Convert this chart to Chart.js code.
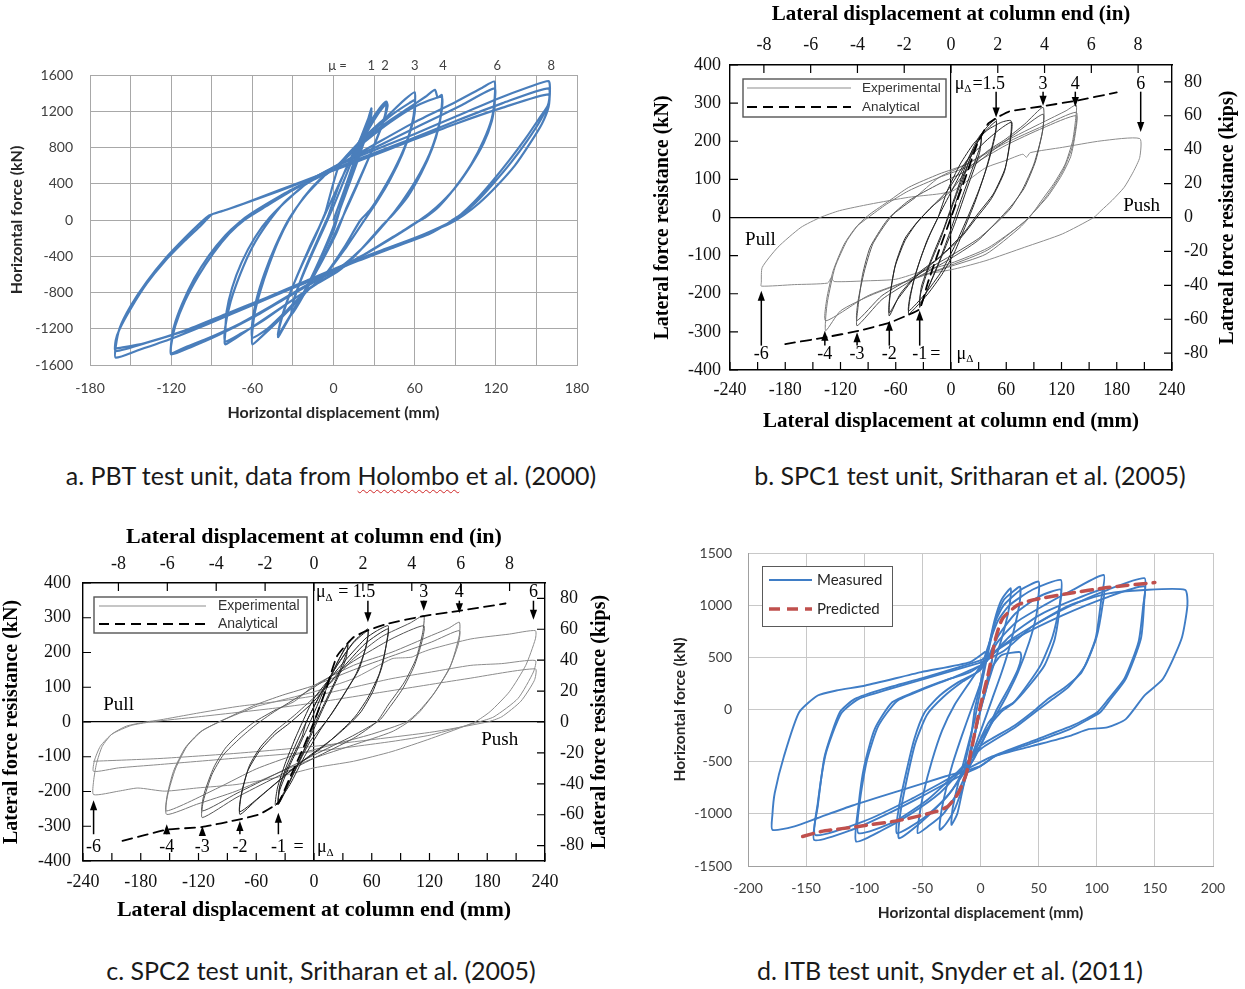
<!DOCTYPE html>
<html>
<head>
<meta charset="utf-8">
<title>Cyclic force–displacement response of four test units</title>
<script src="https://cdn.jsdelivr.net/npm/chart.js@4.4.1/dist/chart.umd.min.js"></script>
<style>
  html, body { margin: 0; padding: 0; background: #fff; }
  body { width: 1245px; height: 989px; position: relative; overflow: hidden; }
  canvas { position: absolute; }
  .cap { position: absolute; transform: translateX(-50%); white-space: nowrap;
         font-family: Lato, "Open Sans", sans-serif; font-size: 25px; line-height: 30px; color: #1a1a1a; }
  .sq { text-decoration: underline wavy #d02828; text-decoration-thickness: 1px; text-underline-offset: 4px; }
</style>
</head>
<body>
<canvas id="pbt"  width="620" height="400" style="left:0;top:40px"></canvas>
<canvas id="spc1" width="605" height="440" style="left:640px;top:0"></canvas>
<canvas id="spc2" width="625" height="410" style="left:0;top:520px"></canvas>
<canvas id="itb"  width="605" height="400" style="left:640px;top:530px"></canvas>

<div class="cap" style="left:331px;top:460px">a. PBT test unit, data from <span class="sq">Holombo</span> et al. (2000)</div>
<div class="cap" style="left:970px;top:460px">b. SPC1 test unit, Sritharan et al. (2005)</div>
<div class="cap" style="left:321px;top:955px">c. SPC2 test unit, Sritharan et al. (2005)</div>
<div class="cap" style="left:950px;top:955px">d. ITB test unit, Snyder et al. (2011)</div>

<script>
// ---------- fonts and unit conversions ----------
const SERIF = '"Liberation Serif", "Times New Roman", serif';
const SANS  = '"Liberation Sans", Arial, sans-serif';
const HUMAN = 'Lato, "Open Sans", sans-serif';
const KN_PER_KIP = 4.448222;
const MM_PER_IN = 25.4;

// ---------- (a) PBT unit: displacement (mm), force (kN), one array per ductility level ----------
const pbtCycleMu1 = [[0,0],[8,330],[16,680],[23,980],[28,1230],[27,1120],[22,880],[14,520],[6,180],[0,-120],[-8,-380],[-16,-650],[-24,-880],[-31,-1040],[-30,-920],[-24,-660],[-16,-380],[-8,-120],[0,150],[10,520],[20,900],[28,1200],[27,1070],[18,660],[8,250],[-2,-150],[-14,-560],[-24,-860],[-31,-1010],[-29,-860],[-20,-500],[-10,-160],[-4,40]];
const pbtCycleMu2 = [[-4,40],[4,380],[14,720],[26,1050],[34,1230],[39,1306],[40,1260],[37,1090],[30,820],[20,480],[10,150],[2,-150],[-8,-440],[-20,-760],[-30,-1010],[-38,-1220],[-41,-1292],[-40,-1180],[-35,-930],[-27,-620],[-18,-310],[-10,-60],[-2,200],[8,520],[20,850],[32,1150],[39,1280],[38,1150],[32,900],[22,540],[12,200],[2,-120],[-10,-480],[-22,-800],[-33,-1080],[-41,-1270],[-39,-1110],[-33,-840],[-24,-520],[-14,-200],[-6,80]];
const pbtCycleMu3 = [[-6,80],[4,600],[14,780],[26,960],[40,1150],[52,1320],[60,1410],[60,1250],[58,1060],[53,820],[45,560],[36,320],[27,110],[20,0],[8,-300],[-6,-600],[-18,-760],[-30,-950],[-42,-1130],[-52,-1270],[-60,-1372],[-60,-1230],[-58,-1010],[-54,-780],[-48,-510],[-41,-240],[-33,0],[-22,250],[-10,450],[4,610],[16,790],[30,990],[44,1170],[56,1290],[60,1320],[60,1180],[57,990],[51,730],[42,450],[32,200],[22,-20],[8,-330],[-8,-640],[-20,-780],[-34,-990],[-48,-1190],[-60,-1300],[-60,-1130],[-57,-880],[-51,-590],[-43,-290],[-33,10],[-20,280],[-6,500]];
const pbtCycleMu4 = [[-6,500],[4,620],[20,850],[38,1060],[55,1230],[68,1360],[75,1435],[77,1350],[80,1380],[80,1250],[78,1040],[73,790],[65,520],[55,260],[44,60],[36,-60],[20,-330],[4,-560],[-14,-720],[-30,-880],[-48,-1060],[-64,-1220],[-80,-1372],[-80,-1240],[-79,-1010],[-75,-750],[-68,-470],[-58,-190],[-47,30],[-32,250],[-16,450],[4,620],[22,850],[42,1080],[60,1250],[80,1360],[80,1210],[77,990],[71,730],[61,440],[50,190],[39,-20],[22,-300],[2,-560],[-16,-740],[-34,-920],[-52,-1110],[-68,-1250],[-80,-1340],[-80,-1180],[-76,-900],[-69,-600],[-60,-300],[-49,-40],[-36,200],[-20,400]];
const pbtCycleMu6 = [[-20,400],[4,610],[30,830],[60,1080],[90,1300],[110,1460],[119,1527],[119,1320],[117,1120],[111,880],[102,620],[90,360],[78,150],[68,30],[62,-20],[48,-150],[25,-360],[0,-560],[-20,-720],[-45,-940],[-70,-1150],[-95,-1320],[-112,-1420],[-120,-1470],[-120,-1360],[-118,-1180],[-112,-930],[-103,-650],[-92,-390],[-80,-170],[-70,-30],[-60,80],[-40,260],[-20,420],[4,610],[35,830],[65,1050],[95,1270],[119,1453],[119,1290],[117,1090],[111,850],[101,590],[89,340],[76,140],[64,0],[40,-230],[15,-450],[-10,-650],[-35,-860],[-60,-1080],[-85,-1270],[-105,-1400],[-120,-1483],[-120,-1380],[-117,-1170],[-110,-900],[-100,-620],[-89,-370],[-77,-150],[-66,0],[-50,150],[-30,330],[-10,480]];
const pbtCycleMu8 = [[-10,480],[4,610],[30,770],[60,950],[90,1140],[120,1330],[145,1470],[159,1534],[160,1460],[159,1280],[152,1120],[142,900],[130,660],[117,420],[104,200],[94,60],[88,0],[81,-70],[70,-160],[45,-300],[15,-470],[-15,-660],[-45,-840],[-75,-1020],[-105,-1200],[-135,-1340],[-161,-1446],[-161,-1330],[-158,-1200],[-150,-980],[-138,-700],[-125,-460],[-110,-230],[-98,-60],[-90,60],[-80,110],[-70,160],[-40,330],[-10,500],[20,680],[55,880],[90,1090],[125,1290],[159,1453],[159,1290],[153,1100],[143,870],[131,630],[118,400],[105,190],[94,50],[84,-40],[60,-200],[30,-380],[0,-560],[-30,-750],[-60,-940],[-90,-1130],[-120,-1310],[-145,-1440],[-161,-1519],[-161,-1400],[-158,-1190],[-150,-950],[-138,-680],[-124,-420],[-110,-200],[-99,-40],[-92,50],[-82,100],[-72,150],[-40,320],[-10,490],[20,660],[55,860],[90,1060],[125,1240],[159,1387],[159,1250],[154,1060],[145,840],[134,600],[121,380],[108,190],[96,50],[86,-40],[70,-140],[40,-310],[10,-480],[-20,-670],[-50,-860],[-80,-1040],[-110,-1220],[-140,-1360],[-161,-1420]];
const pbtDispGrid   = [-180,-150,-120,-90,-60,-30,0,30,60,90,120,150,180];
const pbtForceTicks = [-1600,-1200,-800,-400,0,400,800,1200,1600];
const pbtMuText = ['μ =', '1', '2', '3', '4', '6', '8'];
const pbtMuAt   = [3, 28, 38, 60, 81, 121, 161];

// ---------- (b) SPC1 unit: displacement (mm), force (kN) ----------
const spc1CycleMu1  = [[0,0],[10,75],[20,150],[33,219],[32,190],[22,120],[10,40],[0,-30],[-12,-110],[-24,-180],[-34,-236],[-33,-200],[-24,-130],[-12,-60],[0,20],[12,100],[25,180],[33,215],[31,170],[18,80],[5,-10],[-8,-90],[-22,-170],[-34,-230],[-32,-180],[-20,-100],[-8,-30]];
const spc1CycleMu15 = [[-8,-30],[5,60],[18,150],[30,210],[42,245],[49,258],[49,235],[44,180],[36,110],[26,40],[16,-20],[4,-90],[-10,-150],[-25,-200],[-38,-235],[-46,-253],[-45,-220],[-40,-160],[-32,-100],[-22,-40],[-10,20],[5,90],[20,160],[35,220],[49,252],[48,215],[40,140],[30,70],[18,0],[5,-70],[-10,-140],[-28,-200],[-46,-245],[-44,-200],[-36,-130],[-26,-60],[-14,0]];
const spc1CycleMu2  = [[-14,0],[-4,70],[10,140],[25,195],[40,230],[55,250],[65,254],[65,219],[59,131],[46,62],[29,9],[13,-43],[-13,-105],[-35,-145],[-55,-200],[-67,-258],[-67,-218],[-61,-131],[-50,-61],[-38,-17],[-25,18],[-4,70],[17,149],[38,201],[55,235],[66,250],[65,210],[58,120],[44,50],[28,0],[10,-55],[-15,-110],[-40,-160],[-58,-215],[-67,-250],[-66,-200],[-60,-120],[-50,-55],[-36,-10],[-20,30]];
const spc1CycleMu3  = [[-20,30],[0,70],[17,123],[40,175],[59,205],[80,245],[100,289],[100,236],[92,149],[80,79],[67,35],[54,0],[29,-61],[-4,-113],[-46,-170],[-75,-215],[-102,-284],[-101,-236],[-96,-149],[-88,-79],[-75,-26],[-67,0],[-46,44],[-13,88],[17,123],[45,175],[70,220],[100,271],[99,220],[90,140],[78,75],[65,25],[52,-8],[30,-55],[0,-100],[-40,-155],[-75,-205],[-102,-270],[-101,-220],[-94,-140],[-85,-70],[-72,-20],[-62,10],[-40,50]];
const spc1CycleMu4  = [[-40,50],[-13,105],[17,140],[59,200],[100,250],[125,280],[136,295],[135,250],[132,200],[124,140],[112,90],[100,50],[88,9],[75,-26],[38,-96],[-4,-131],[-46,-166],[-88,-205],[-120,-245],[-136,-297],[-136,-260],[-134,-218],[-126,-131],[-113,-61],[-100,-17],[-88,9],[-67,44],[-46,79],[-13,114],[17,140],[59,195],[100,240],[136,276],[135,230],[131,180],[122,125],[108,70],[94,25],[80,-10],[40,-85],[0,-125],[-40,-160],[-90,-205],[-136,-271],[-135,-215],[-128,-140],[-116,-70],[-103,-25],[-90,0],[-70,35],[-46,70],[-13,105],[20,135],[60,190],[100,235],[136,267],[135,220],[130,160],[120,110],[105,55],[90,15],[78,-15],[40,-80],[0,-120],[-30,-140]];
const spc1CycleMu6  = [[-30,-140],[-60,-162],[-90,-166],[-127,-168],[-130,-158],[-134,-172],[-170,-176],[-206,-180],[-206,-170],[-205,-131],[-188,-78],[-163,-26],[-142,0],[-121,18],[-88,35],[-46,53],[-13,62],[2,70],[20,100],[38,131],[60,150],[78,166],[82,158],[86,170],[121,184],[163,201],[205,207],[205,158],[198,120],[188,79],[175,45],[163,18],[155,0],[121,-43],[80,-78],[38,-113],[4,-135],[-30,-150]];
const spc1Analytical = [[-180,-332],[-138,-315],[-100,-297],[-67,-276],[-46,-255],[-34,-240],[-25,-170],[-15,-100],[0,0],[15,100],[28,190],[40,245],[50,262],[63,278],[100,292],[135,306],[180,328]];
const spc1PosAt  = [49, 100, 135, 206];
const spc1PosTip = [262, 293, 290, 224];
const spc1NegText = ['-6', '-4', '-3', '-2', '-1'];
const spc1NegAt   = [-206, -137, -102, -67, -34];
const spc1NegTip  = [-192, -297, -301, -271, -244];

// ---------- (c) SPC2 unit: displacement (mm), force (kN) ----------
const spc2CycleMu1  = [[0,0],[12,90],[24,170],[35,225],[34,200],[24,130],[12,60],[0,-10],[-12,-90],[-25,-170],[-37,-237],[-36,-200],[-26,-130],[-14,-60],[-4,0],[10,90],[24,170],[35,222],[33,180],[20,100],[8,30],[-5,-50],[-20,-140],[-37,-230],[-35,-180],[-24,-110],[-12,-40]];
const spc2CycleMu15 = [[-12,-40],[-8,0],[8,87],[24,163],[41,230],[56,268],[55,230],[47,153],[33,87],[20,30],[12,0],[-4,-56],[-20,-142],[-37,-237],[-36,-190],[-28,-123],[-16,-47],[-8,0],[8,87],[24,163],[41,228],[56,262],[54,215],[44,140],[30,75],[16,15],[6,-25],[-10,-100],[-25,-180],[-40,-240],[-38,-190],[-30,-120],[-20,-50]];
const spc2CycleMu2  = [[-20,-50],[-12,0],[0,68],[28,163],[53,239],[65,262],[77,277],[76,239],[71,163],[61,87],[49,30],[39,0],[20,-47],[-8,-104],[-41,-180],[-60,-225],[-77,-266],[-76,-218],[-69,-142],[-57,-85],[-41,-37],[-24,0],[0,60],[28,150],[53,225],[77,268],[75,220],[68,140],[56,70],[44,20],[34,-10],[10,-70],[-20,-130],[-50,-200],[-77,-258],[-75,-200],[-67,-125],[-55,-70],[-40,-25]];
const spc2CycleMu3  = [[-40,-25],[-20,20],[0,70],[20,120],[41,182],[70,245],[100,285],[114,306],[113,258],[106,182],[94,115],[77,49],[65,0],[41,-47],[0,-104],[-41,-161],[-81,-218],[-116,-275],[-115,-228],[-106,-151],[-94,-94],[-77,-47],[-61,-9],[-41,30],[0,100],[41,175],[81,240],[114,277],[112,230],[104,160],[92,95],[78,40],[68,5],[40,-40],[0,-95],[-40,-150],[-80,-205],[-116,-256],[-114,-205],[-104,-130],[-92,-75],[-78,-35],[-62,0],[-40,35]];
const spc2CycleMu4  = [[-40,35],[-20,60],[0,105],[41,163],[81,201],[122,249],[140,270],[151,287],[151,249],[142,163],[126,87],[110,30],[98,0],[81,-28],[41,-66],[0,-104],[-41,-151],[-81,-199],[-122,-237],[-153,-266],[-153,-218],[-146,-142],[-134,-75],[-118,-28],[-98,1],[-61,49],[-33,77],[0,105],[41,150],[81,190],[122,230],[151,263],[150,225],[140,150],[124,80],[108,28],[96,0],[60,-35],[20,-65],[-20,-95],[-60,-135],[-100,-190],[-153,-256],[-152,-210],[-144,-135],[-132,-70],[-116,-25],[-95,5],[-60,45]];
const spc2CycleMu6  = [[-60,45],[-41,58],[0,87],[41,125],[81,182],[95,185],[102,187],[110,198],[122,210],[163,239],[203,253],[230,263],[230,239],[220,163],[203,87],[183,30],[167,0],[122,-47],[81,-85],[41,-113],[0,-132],[-41,-161],[-81,-180],[-122,-190],[-155,-199],[-183,-190],[-203,-199],[-229,-209],[-229,-170],[-226,-120],[-220,-70],[-210,-35],[-195,-12],[-175,0],[-160,6],[-122,25],[-81,44],[-41,58],[0,75],[41,100],[81,125],[122,144],[163,163],[195,168],[230,177],[228,144],[212,68],[187,15],[171,0],[122,-37],[81,-56],[0,-85],[-81,-104],[-163,-123],[-203,-132],[-229,-142],[-228,-110],[-222,-70],[-210,-35],[-190,-10],[-170,0],[-120,15],[-40,40],[0,55],[80,90],[160,125],[230,153],[229,120],[215,60],[195,15],[180,0],[120,-30],[0,-70],[-80,-90],[-160,-105],[-229,-113]];
const spc2Analytical = [[-199,-342],[-153,-310],[-116,-302],[-77,-280],[-57,-266],[-37,-232],[-25,-160],[-12,-80],[0,0],[12,90],[24,190],[41,244],[56,264],[77,283],[114,305],[151,320],[199,341]];
const spc2PosAt  = [56, 114, 151, 228];
const spc2PosTip = [287, 320, 313, 294];
const spc2NegText = ['-6', '-4', '-3', '-2', '-1'];
const spc2NegAt   = [-229, -153, -116, -77, -37];
const spc2NegTip  = [-225, -294, -299, -285, -261];

// shared axis ticks for the SPC plots
const spcMmTicks  = [-240,-180,-120,-60,0,60,120,180,240];
const spcMmMarks  = [-240,-210,-180,-150,-120,-90,-60,-30,0,30,60,90,120,150,180,210,240];
const spcInTicks  = [-8,-6,-4,-2,0,2,4,6,8];
const spcKnTicks  = [-400,-300,-200,-100,0,100,200,300,400];
const spcKipTicks = [-80,-60,-40,-20,0,20,40,60,80];

// ---------- (d) ITB unit: displacement (mm), force (kN) ----------
const itbCycleElastic = [[0,0],[5,250],[10,480],[9,400],[5,200],[0,0],[-5,-250],[-10,-480],[-9,-400],[-4,-180],[0,0],[10,400],[18,520],[34,550],[35,500],[32,380],[24,200],[14,0],[4,-250],[-6,-480],[-14,-600],[-12,-450],[-8,-250],[-5,0]];
const itbCycle25  = [[-5,0],[5,500],[12,850],[18,1050],[26,1162],[25,1000],[20,750],[12,450],[5,200],[-2,-100],[-10,-500],[-16,-800],[-20,-1000],[-25,-1105],[-24,-950],[-19,-700],[-12,-400],[-5,-100]];
const itbCycle35  = [[-5,-100],[2,300],[8,620],[14,900],[20,1050],[28,1130],[34,1178],[34,1050],[31,870],[25,600],[18,350],[10,100],[2,-150],[-6,-400],[-14,-700],[-22,-950],[-30,-1100],[-35,-1153],[-34,-1000],[-30,-780],[-24,-520],[-16,-250],[-8,0],[0,250]];
const itbCycle50  = [[0,250],[6,550],[12,820],[20,1000],[35,1150],[50,1226],[50,1100],[48,900],[42,650],[32,350],[22,120],[12,-80],[2,-300],[-10,-560],[-20,-800],[-32,-1000],[-45,-1120],[-54,-1185],[-53,-1050],[-49,-800],[-42,-500],[-33,-200],[-22,50],[-10,250],[2,450]];
const itbCycle70  = [[2,450],[8,650],[15,850],[25,1000],[45,1150],[69,1242],[69,1066],[64,680],[55,422],[42,230],[29,69],[19,5],[7,-124],[-5,-400],[-15,-620],[-30,-850],[-50,-1050],[-72,-1185],[-70,-928],[-64,-607],[-57,-285],[-48,-27],[-35,134],[-19,262],[-3,358],[5,460]];
const itbCycle70b = [[5,460],[15,700],[30,920],[50,1080],[69,1150],[68,1000],[62,700],[52,430],[40,230],[28,60],[18,-20],[5,-200],[-10,-500],[-25,-780],[-45,-1020],[-70,-1234],[-69,-1000],[-63,-650],[-56,-320],[-46,-50],[-32,120],[-15,270],[0,380],[8,520]];
const itbCycle105  = [[8,520],[15,650],[30,830],[55,1000],[80,1150],[106,1289],[104,1066],[99,680],[87,358],[71,198],[58,101],[48,5],[29,-156],[0,-349],[-15,-560],[-35,-800],[-60,-1000],[-85,-1160],[-107,-1265],[-105,-928],[-100,-542],[-91,-188],[-76,69],[-57,166],[-35,262],[-9,358],[5,460]];
const itbCycle105b = [[5,460],[25,700],[50,900],[80,1050],[106,1150],[105,1000],[100,700],[90,420],[76,220],[62,100],[50,0],[30,-170],[0,-380],[-20,-600],[-45,-860],[-75,-1080],[-105,-1185],[-104,-900],[-98,-500],[-88,-160],[-72,80],[-50,190],[-25,300],[0,420]];
const itbCycle140  = [[0,420],[20,620],[45,800],[75,980],[110,1150],[141,1259],[141,1066],[138,680],[125,294],[112,101],[103,-27],[93,-92],[77,-188],[45,-320],[13,-445],[0,-542],[-20,-650],[-50,-830],[-80,-1000],[-110,-1150],[-143,-1251],[-140,-928],[-134,-446],[-121,-27],[-108,101],[-83,198],[-50,300],[-20,400],[0,470]];
const itbCycle140b = [[0,470],[30,680],[70,900],[110,1080],[141,1180],[140,1000],[136,650],[124,300],[110,100],[100,-30],[80,-150],[45,-300],[10,-450],[-20,-620],[-60,-860],[-100,-1070],[-142,-1203],[-140,-900],[-133,-420],[-120,-40],[-105,100],[-80,190],[-40,320],[0,450]];
const itbCycle178  = [[0,450],[20,560],[45,800],[77,1000],[109,1110],[141,1146],[176,1146],[178,1001],[173,680],[157,294],[141,133],[125,-92],[109,-172],[93,-188],[77,-252],[45,-349],[13,-445],[0,-542],[-30,-640],[-70,-780],[-110,-920],[-140,-1040],[-160,-1120],[-179,-1153],[-179,-1008],[-177,-800],[-169,-446],[-156,-27],[-140,134],[-124,182],[-99,230],[-51,358],[-9,454],[4,552]];
const itbPredicted = [[-153,-1217],[-137,-1169],[-105,-1121],[-67,-1057],[-38,-977],[-28,-928],[-19,-800],[-12,-607],[-6,-285],[0,37],[7,358],[13,680],[19,873],[32,1001],[45,1050],[77,1114],[109,1169],[150,1217]];
const itbDispTicks  = [-200,-150,-100,-50,0,50,100,150,200];
const itbForceTicks = [-1500,-1000,-500,0,500,1000,1500];

// ---------- helpers ----------
const xy = arr => arr.map(p => ({ x: p[0], y: p[1] }));
const plain = v => String(v);
const useTicks = values => scale => { scale.ticks = values.map(v => ({ value: v })); };
const fixSize = (dim, size) => scale => {
  scale[dim] = size;
  scale.paddingLeft = scale.paddingRight = scale.paddingTop = scale.paddingBottom = 0;
};
function curve(label, arr, color, width, extra) {
  return Object.assign({ label, data: xy(arr), showLine: true, borderColor: color, backgroundColor: color,
    borderWidth: width, pointRadius: 0, pointHoverRadius: 0, tension: 0.25, fill: false }, extra || {});
}
function baseOptions(padding) {
  return {
    responsive: false, animation: false, devicePixelRatio: 1, events: [],
    layout: { padding },
    plugins: { legend: { display: false }, tooltip: { enabled: false } },
    elements: { line: { borderCapStyle: 'round', borderJoinStyle: 'round' } }
  };
}
function arrow(ctx, x, yFrom, yTo) {
  const dir = Math.sign(yTo - yFrom);
  ctx.beginPath(); ctx.moveTo(x, yFrom); ctx.lineTo(x, yTo - dir * 8); ctx.stroke();
  ctx.beginPath(); ctx.moveTo(x, yTo); ctx.lineTo(x - 3.6, yTo - dir * 10); ctx.lineTo(x + 3.6, yTo - dir * 10);
  ctx.closePath(); ctx.fill();
}
function muDelta(ctx, x, y, size, tail) {
  ctx.textAlign = 'left'; ctx.textBaseline = 'middle';
  ctx.font = `${size}px ${SERIF}`; ctx.fillText('μ', x, y);
  let w = ctx.measureText('μ').width;
  ctx.font = `${Math.round(size * 0.62)}px ${SERIF}`; ctx.fillText('Δ', x + w, y + size * 0.3);
  w += ctx.measureText('Δ').width;
  if (tail) { ctx.font = `${size}px ${SERIF}`; ctx.fillText(tail, x + w + 1, y); }
}

// ---------- (a) PBT ----------
const PBT_BLUE = '#4a7ebb';
const pbtMu = {
  id: 'pbtMu',
  afterDraw(chart) {
    const { ctx, chartArea: a, scales: { x } } = chart;
    ctx.save();
    ctx.fillStyle = '#404040'; ctx.font = `13px ${HUMAN}`;
    ctx.textAlign = 'center'; ctx.textBaseline = 'middle';
    pbtMuText.forEach((t, i) => ctx.fillText(t, x.getPixelForValue(pbtMuAt[i]), a.top - 9));
    ctx.restore();
  }
};
new Chart(document.getElementById('pbt'), {
  type: 'scatter',
  data: { datasets: [pbtCycleMu1, pbtCycleMu2, pbtCycleMu3, pbtCycleMu4, pbtCycleMu6, pbtCycleMu8]
            .map((c, i) => curve('PBT ' + i, c, PBT_BLUE, 2.2, { tension: 0.2 })) },
  options: Object.assign(baseOptions({ left: 0, top: 35, right: 43, bottom: 0 }), {
    scales: {
      x: { type: 'linear', min: -180, max: 180, afterBuildTicks: useTicks(pbtDispGrid), afterFit: fixSize('height', 75),
           ticks: { autoSkip: false, maxRotation: 0, padding: 14.6, color: '#404040', font: { family: HUMAN, size: 14 },
                    callback: v => (v % 60 === 0 ? String(v) : '') },
           grid: { color: '#a8a8a8', lineWidth: 1, drawTicks: false }, border: { color: '#a8a8a8', width: 1 },
           title: { display: true, text: 'Horizontal displacement (mm)', color: '#262626',
                    font: { family: HUMAN, size: 16, weight: 'bold' }, padding: { top: 0, bottom: 17.4 } } },
      y: { type: 'linear', min: -1600, max: 1600, afterBuildTicks: useTicks(pbtForceTicks), afterFit: fixSize('width', 90),
           ticks: { autoSkip: false, padding: 17, color: '#404040', font: { family: HUMAN, size: 14 }, callback: plain },
           grid: { color: '#a8a8a8', lineWidth: 1, drawTicks: false }, border: { color: '#a8a8a8', width: 1 },
           title: { display: true, text: 'Horizontal force (kN)', color: '#262626',
                    font: { family: HUMAN, size: 16, weight: 'bold' }, padding: { top: 7.4, bottom: 0 } } }
    }
  }),
  plugins: [pbtMu]
});

// ---------- (b), (c) SPC units ----------
function spcDecor(cfg) {
  return {
    id: 'spcDecor',
    afterDraw(chart) {
      const { ctx, chartArea: a, scales } = chart;
      const { x, y, xIn, yKip } = scales;
      ctx.save();
      // tick marks pointing into the frame
      ctx.strokeStyle = '#000'; ctx.lineWidth = 1.2; ctx.beginPath();
      spcMmMarks.forEach(v => { const p = x.getPixelForValue(v); ctx.moveTo(p, a.bottom); ctx.lineTo(p, a.bottom - 8); });
      spcInTicks.forEach(v => { const p = xIn.getPixelForValue(v); ctx.moveTo(p, a.top); ctx.lineTo(p, a.top + 8); });
      spcKnTicks.forEach(v => { const p = y.getPixelForValue(v); ctx.moveTo(a.left, p); ctx.lineTo(a.left + 8, p); });
      spcKipTicks.forEach(v => { const p = yKip.getPixelForValue(v); ctx.moveTo(a.right, p); ctx.lineTo(a.right - 8, p); });
      ctx.stroke();

      // legend
      const L = cfg.legend;
      const bx = a.left + L.dx, by = a.top + L.dy;
      ctx.fillStyle = '#fff'; ctx.fillRect(bx, by, L.w, L.h);
      ctx.strokeStyle = '#555'; ctx.lineWidth = 1.4; ctx.strokeRect(bx, by, L.w, L.h);
      const find = lbl => chart.data.datasets.find(d => d.label === lbl);
      [[find('Experimental'), L.r1, 'Experimental'], [find('Analytical'), L.r2, 'Analytical']].forEach(([d, ry, text]) => {
        ctx.save();
        ctx.strokeStyle = d.borderColor; ctx.lineWidth = Math.max(d.borderWidth, 1.2); ctx.setLineDash(d.borderDash || []);
        ctx.beginPath(); ctx.moveTo(a.left + L.x1, a.top + ry); ctx.lineTo(a.left + L.x2, a.top + ry); ctx.stroke();
        ctx.restore();
        ctx.fillStyle = '#333'; ctx.font = `${L.size}px ${SANS}`; ctx.textAlign = 'left'; ctx.textBaseline = 'middle';
        ctx.fillText(text, a.left + L.tx, a.top + ry);
      });

      // ductility arrows and labels
      ctx.fillStyle = '#000'; ctx.strokeStyle = '#000'; ctx.lineWidth = 1.5;
      cfg.posAt.forEach((v, i) => arrow(ctx, x.getPixelForValue(v), y.getPixelForValue(cfg.posBase), y.getPixelForValue(cfg.posTip[i])));
      cfg.negAt.forEach((v, i) => arrow(ctx, x.getPixelForValue(v), y.getPixelForValue(cfg.negBase), y.getPixelForValue(cfg.negTip[i])));
      const ly = y.getPixelForValue(cfg.posLabelY), ny = y.getPixelForValue(cfg.negLabelY);
      muDelta(ctx, x.getPixelForValue(cfg.muPosLeft), ly, 18, cfg.firstTail);
      ctx.font = `18px ${SERIF}`; ctx.textAlign = 'center'; ctx.textBaseline = 'middle';
      cfg.posText.forEach((t, i) => ctx.fillText(t, x.getPixelForValue(cfg.posAt[i + 1]), ly));
      cfg.negText.forEach((t, i) => ctx.fillText(t, x.getPixelForValue(cfg.negAt[i]), ny));
      ctx.fillText('=', x.getPixelForValue(cfg.eqAt), ny);
      muDelta(ctx, x.getPixelForValue(cfg.muNegLeft), ny, 18, '');
      ctx.font = `19px ${SERIF}`; ctx.textAlign = 'center';
      ctx.fillText('Pull', x.getPixelForValue(cfg.pull[0]), y.getPixelForValue(cfg.pull[1]));
      ctx.fillText('Push', x.getPixelForValue(cfg.push[0]), y.getPixelForValue(cfg.push[1]));

      // right-hand axis title, read bottom to top
      ctx.translate(cfg.rightTitleX, (a.top + a.bottom) / 2);
      ctx.rotate(-Math.PI / 2);
      ctx.font = `bold 20px ${SERIF}`; ctx.textAlign = 'center'; ctx.textBaseline = 'middle';
      ctx.fillText(cfg.rightTitle, 0, 0);
      ctx.restore();
    }
  };
}
function spcScales(g) {
  const tickFont = { family: SERIF, size: 18 };
  const titleFont = { family: SERIF, size: g.titleSize, weight: 'bold' };
  const yTitleFont = { family: SERIF, size: 20, weight: 'bold' };
  const zeroLine = c => (c.tick && c.tick.value === 0 ? '#000' : 'rgba(0,0,0,0)');
  return {
    x: { type: 'linear', position: 'bottom', min: -240, max: 240, afterBuildTicks: useTicks(spcMmTicks), afterFit: fixSize('height', g.bottom),
         ticks: { autoSkip: false, maxRotation: 0, padding: g.bottomPad, color: '#111', font: tickFont },
         grid: { color: zeroLine, lineWidth: 1.2, drawTicks: false }, border: { color: '#000', width: 1.4 },
         title: { display: true, text: 'Lateral displacement at column end (mm)', color: '#000', font: titleFont, padding: { top: 0, bottom: g.bottomTitle } } },
    xIn: { type: 'linear', position: 'top', min: -240 / MM_PER_IN, max: 240 / MM_PER_IN, afterBuildTicks: useTicks(spcInTicks), afterFit: fixSize('height', g.top),
         ticks: { autoSkip: false, maxRotation: 0, padding: g.topPad, color: '#111', font: tickFont },
         grid: { display: false, drawTicks: false }, border: { color: '#000', width: 1.4 },
         title: { display: true, text: 'Lateral displacement at column end (in)', color: '#000', font: titleFont, padding: { top: g.topTitle, bottom: 0 } } },
    y: { type: 'linear', position: 'left', min: -400, max: 400, afterBuildTicks: useTicks(spcKnTicks), afterFit: fixSize('width', g.left),
         ticks: { autoSkip: false, padding: g.leftPad, color: '#111', font: tickFont },
         grid: { color: zeroLine, lineWidth: 1.2, drawTicks: false }, border: { color: '#000', width: 1.4 },
         title: { display: true, text: 'Lateral force resistance (kN)', color: '#000', font: yTitleFont, padding: { top: g.leftTitle, bottom: 0 } } },
    yKip: { type: 'linear', position: 'right', min: -400 / KN_PER_KIP, max: 400 / KN_PER_KIP, afterBuildTicks: useTicks(spcKipTicks), afterFit: fixSize('width', g.right),
         ticks: { autoSkip: false, padding: g.rightPad, color: '#111', font: tickFont },
         grid: { display: false, drawTicks: false }, border: { color: '#000', width: 1.4 } }
  };
}
const GRAY = '#8d8d8d', DARK = '#262626', MID = '#555555';
function spcData(cycles, colors, analytical) {
  const sets = [curve('Analytical', analytical, '#000', 1.8, { borderDash: [10, 6], tension: 0.15 })];
  cycles.forEach((c, i) => sets.push(curve(i === cycles.length - 1 ? 'Experimental' : 'cycle ' + i, c, colors[i], 1, { tension: 0.2 })));
  return { datasets: sets };
}

new Chart(document.getElementById('spc1'), {
  type: 'scatter',
  data: spcData([spc1CycleMu1, spc1CycleMu15, spc1CycleMu2, spc1CycleMu3, spc1CycleMu4, spc1CycleMu6],
                [DARK, DARK, DARK, MID, '#7a7a7a', GRAY], spc1Analytical),
  options: Object.assign(baseOptions({ left: 0, top: 0, right: 0, bottom: 0 }), {
    scales: spcScales({ left: 90, right: 73, top: 65, bottom: 70, leftPad: 9, rightPad: 12, topPad: 9.2, bottomPad: 9.2,
                        titleSize: 21, leftTitle: 11, topTitle: 2.4, bottomTitle: 5.4 })
  }),
  plugins: [spcDecor({
    legend: { dx: 13, dy: 14, w: 203, h: 38, r1: 23, r2: 42, x1: 17, x2: 121, tx: 132, size: 13.5 },
    posAt: spc1PosAt, posTip: spc1PosTip, posBase: 330, posLabelY: 350, posText: ['3', '4', '6'],
    muPosLeft: 4, firstTail: '=1.5',
    negAt: spc1NegAt, negTip: spc1NegTip, negBase: -336, negLabelY: -358, negText: spc1NegText,
    eqAt: -17, muNegLeft: 6,
    pull: [-207, -59], push: [207, 31],
    rightTitle: 'Latreal force resistance (kips)', rightTitleX: 588
  })]
});

new Chart(document.getElementById('spc2'), {
  type: 'scatter',
  data: spcData([spc2CycleMu1, spc2CycleMu15, spc2CycleMu2, spc2CycleMu3, spc2CycleMu4, spc2CycleMu6],
                [DARK, DARK, DARK, MID, '#7a7a7a', GRAY], spc2Analytical),
  options: Object.assign(baseOptions({ left: 0, top: 0, right: 0, bottom: 0 }), {
    scales: spcScales({ left: 83, right: 80, top: 63, bottom: 69, leftPad: 12, rightPad: 15, topPad: 8.2, bottomPad: 10.2,
                        titleSize: 22, leftTitle: 0, topTitle: 3.8, bottomTitle: 6.8 })
  }),
  plugins: [spcDecor({
    legend: { dx: 11, dy: 14, w: 213, h: 36, r1: 23, r2: 41, x1: 16, x2: 123, tx: 135, size: 14 },
    posAt: spc2PosAt, posTip: spc2PosTip, posBase: 349, posLabelY: 372, posText: ['3', '4', '6'],
    muPosLeft: 2, firstTail: ' = 1.5',
    negAt: spc2NegAt, negTip: spc2NegTip, negBase: -323, negLabelY: -361, negText: spc2NegText,
    eqAt: -16, muNegLeft: 3,
    pull: [-203, 49], push: [193, -51],
    rightTitle: 'Lateral force resistance (kips)', rightTitleX: 600
  })]
});

// ---------- (d) ITB ----------
const ITB_BLUE = '#3f7dc6', ITB_RED = '#c0504d';
const itbLegend = {
  id: 'itbLegend',
  afterDraw(chart) {
    const { ctx, chartArea: a } = chart;
    const find = lbl => chart.data.datasets.find(d => d.label === lbl);
    ctx.save();
    ctx.fillStyle = '#fff'; ctx.fillRect(a.left + 14, a.top + 13, 130, 60);
    ctx.strokeStyle = '#5a5a5a'; ctx.lineWidth = 1; ctx.strokeRect(a.left + 14.5, a.top + 13.5, 130, 60);
    [[find('Measured'), 27], [find('Predicted'), 56]].forEach(([d, ry]) => {
      ctx.save();
      ctx.strokeStyle = d.borderColor; ctx.lineWidth = d.borderWidth; ctx.setLineDash(d.borderDash || []);
      ctx.beginPath(); ctx.moveTo(a.left + 21, a.top + ry); ctx.lineTo(a.left + 64, a.top + ry); ctx.stroke();
      ctx.restore();
      ctx.fillStyle = '#262626'; ctx.font = `15px ${HUMAN}`; ctx.textAlign = 'left'; ctx.textBaseline = 'middle';
      ctx.fillText(d.label, a.left + 69, a.top + ry);
    });
    ctx.restore();
  }
};
const itbCycles = [itbCycleElastic, itbCycle25, itbCycle35, itbCycle50, itbCycle70, itbCycle70b,
                   itbCycle105, itbCycle105b, itbCycle140, itbCycle140b, itbCycle178];
new Chart(document.getElementById('itb'), {
  type: 'scatter',
  data: { datasets: [curve('Predicted', itbPredicted, ITB_RED, 3.5, { borderDash: [11, 7], tension: 0.2 })]
            .concat(itbCycles.map((c, i) => curve(i === 0 ? 'Measured' : 'ITB ' + i, c, ITB_BLUE, 1.9, { tension: 0.2 }))) },
  options: Object.assign(baseOptions({ left: 0, top: 23, right: 32, bottom: 0 }), {
    scales: {
      x: { type: 'linear', min: -200, max: 200, afterBuildTicks: useTicks(itbDispTicks), afterFit: fixSize('height', 64),
           ticks: { autoSkip: false, maxRotation: 0, padding: 13.6, color: '#404040', font: { family: HUMAN, size: 14 }, callback: plain },
           grid: { color: '#c8c8c8', lineWidth: 1, drawTicks: false }, border: { color: '#a0a0a0', width: 1 },
           title: { display: true, text: 'Horizontal displacement (mm)', color: '#262626',
                    font: { family: HUMAN, size: 15.5, weight: 'bold' }, padding: { top: 0, bottom: 7.7 } } },
      y: { type: 'linear', min: -1500, max: 1500, afterBuildTicks: useTicks(itbForceTicks), afterFit: fixSize('width', 108),
           ticks: { autoSkip: false, padding: 16, color: '#404040', font: { family: HUMAN, size: 14 }, callback: plain },
           grid: { color: '#c8c8c8', lineWidth: 1, drawTicks: false }, border: { color: '#a0a0a0', width: 1 },
           title: { display: true, text: 'Horizontal force (kN)', color: '#262626',
                    font: { family: HUMAN, size: 15.5, weight: 'bold' }, padding: { top: 30.7, bottom: 0 } } }
    }
  }),
  plugins: [itbLegend]
});
</script>
</body>
</html>
